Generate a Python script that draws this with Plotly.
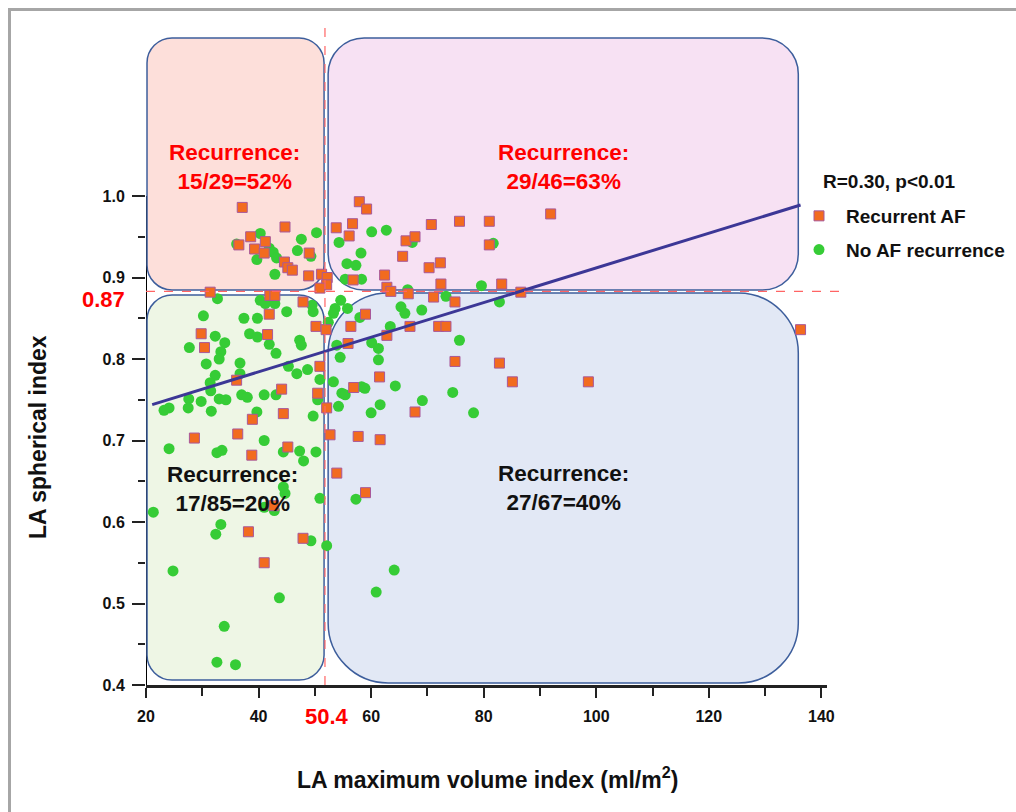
import plotly.graph_objects as go

# ---------------- data ----------------
recurrent_x = [37.1, 44.7, 38.6, 41.2, 36.5, 39.3, 41.0, 49.0, 44.6, 45.2, 46.0, 48.9, 51.2, 52.2, 52.1,
               50.9, 31.4, 42.0, 42.9, 47.9, 41.9, 50.2, 52.0, 29.8, 41.6, 30.4, 50.9, 36.1, 44.1, 50.5,
               52.1, 44.4, 38.9, 36.3, 28.6, 52.7, 45.2, 38.8, 53.9, 38.2, 47.9, 41.0, 42.7,
               57.9, 59.2, 53.8, 56.7, 56.1, 70.7, 75.7, 81.0, 66.2, 67.8, 81.0, 65.6, 70.3, 72.3,
               62.4, 56.8, 62.8, 63.5, 72.4, 83.2, 66.6, 71.1, 74.9, 86.6, 59.0, 66.9, 72.0, 73.3,
               56.4, 62.8, 55.9, 74.9, 82.8, 85.1, 61.5, 56.9, 67.8, 57.7, 61.6, 59.0, 91.9, 136.3, 98.6]
recurrent_y = [0.986, 0.962, 0.950, 0.944, 0.940, 0.935, 0.930, 0.930, 0.919, 0.912, 0.909, 0.902, 0.904, 0.900, 0.891,
               0.887, 0.882, 0.878, 0.878, 0.870, 0.855, 0.840, 0.836, 0.831, 0.830, 0.814, 0.791, 0.774, 0.763, 0.758,
               0.740, 0.733, 0.726, 0.708, 0.703, 0.707, 0.692, 0.682, 0.660, 0.588, 0.580, 0.550, 0.620,
               0.993, 0.984, 0.961, 0.966, 0.951, 0.965, 0.969, 0.969, 0.945, 0.950, 0.940, 0.926, 0.912, 0.918,
               0.903, 0.897, 0.888, 0.883, 0.892, 0.892, 0.880, 0.876, 0.870, 0.882, 0.855, 0.840, 0.840, 0.840,
               0.840, 0.829, 0.819, 0.797, 0.795, 0.772, 0.778, 0.765, 0.735, 0.705, 0.701, 0.636, 0.978, 0.836, 0.772]

norec_x = [40.3, 36.1, 50.3, 47.6, 46.9, 41.9, 42.6, 43.2, 39.7, 49.3, 42.9, 32.7, 40.3, 41.2, 42.9,
           45.0, 30.2, 37.4, 39.8, 49.5, 49.7,
           32.3, 34.0, 27.7, 33.3, 33.0, 38.4, 39.8, 41.9, 43.1, 47.3, 47.6, 30.7, 36.7, 45.3, 46.8,
           48.7, 32.3, 31.4, 36.7, 50.9, 31.5, 37.0, 38.0, 41.0, 43.1, 27.6, 29.8, 33.0, 34.2, 27.5,
           24.1, 23.2, 31.6, 39.7, 49.7, 50.5, 24.1, 32.6, 33.5, 41.0, 44.4, 47.3, 48.0, 50.2, 44.4,
           44.7, 50.9,
           21.3, 33.3, 32.4, 49.3, 52.1, 24.8, 43.7, 33.9, 32.6, 35.9, 41.0, 42.8, 57.3,
           60.1, 62.7, 54.3, 67.3, 81.7, 58.2, 55.7, 57.3, 55.4, 58.3, 79.6, 82.8, 73.3, 66.5, 54.6,
           53.6, 53.3, 55.8, 58.0, 65.3, 66.0, 69.0, 63.4,
           75.7, 60.1, 61.3, 54.5, 61.3, 53.9, 53.3, 58.3, 58.9, 64.3, 54.8, 55.4, 54.2, 61.6, 60.0,
           69.1, 74.5, 78.2, 60.9, 64.1, 52.4]
norec_y = [0.954, 0.941, 0.955, 0.947, 0.933, 0.936, 0.931, 0.924, 0.922, 0.926, 0.904, 0.874, 0.872, 0.868, 0.868,
           0.858, 0.853, 0.850, 0.850, 0.866, 0.858,
           0.828, 0.820, 0.814, 0.809, 0.800, 0.831, 0.827, 0.818, 0.807, 0.823, 0.817, 0.794, 0.795, 0.791, 0.782,
           0.787, 0.780, 0.771, 0.782, 0.775, 0.761, 0.756, 0.753, 0.756, 0.756, 0.751, 0.748, 0.751, 0.750, 0.740,
           0.740, 0.737, 0.736, 0.735, 0.730, 0.750, 0.690, 0.685, 0.688, 0.700, 0.686, 0.687, 0.675, 0.686, 0.643,
           0.635, 0.629,
           0.612, 0.597, 0.585, 0.577, 0.571, 0.540, 0.507, 0.472, 0.428, 0.425, 0.618, 0.614, 0.628,
           0.956, 0.958, 0.943, 0.943, 0.942, 0.930, 0.917, 0.915, 0.898, 0.898, 0.890, 0.870, 0.877, 0.885, 0.872,
           0.862, 0.856, 0.862, 0.851, 0.864, 0.856, 0.860, 0.840,
           0.823, 0.820, 0.813, 0.802, 0.799, 0.817, 0.772, 0.766, 0.764, 0.767, 0.758, 0.756, 0.742, 0.744, 0.734,
           0.749, 0.759, 0.734, 0.514, 0.541, 0.845]

fit_x = [21.1, 136.3]
fit_y = [0.744, 0.989]

x_tick_vals = [20, 40, 60, 80, 100, 120, 140]
x_minor_vals = [30, 50, 70, 90, 110, 130]
y_tick_vals = [0.4, 0.5, 0.6, 0.7, 0.8, 0.9, 1.0]
y_tick_text = ["0.4", "0.5", "0.6", "0.7", "0.8", "0.9", "1.0"]
y_minor_vals = [0.45, 0.55, 0.65, 0.75, 0.85, 0.95]

legend_names = ["Recurrent AF", "No AF recurrence"]
stat_text = "R=0.30, p<0.01"
cut_x_label = "50.4"
cut_y_label = "0.87"
quadrant_text = ["Recurrence:<br>15/29=52%", "Recurrence:<br>29/46=63%",
                 "Recurrence:<br>17/85=20%", "Recurrence:<br>27/67=40%"]
x_title = "LA maximum volume index (ml/m<sup>2</sup>)"
y_title = "LA spherical index"

# ---------------- geometry / style ----------------
W, H = 1016, 812
ML, MR, MT, MB = 146, 189, 33, 127
XR = [20, 141]
YR = [0.4, 1.2]
PW, PH = W - ML - MR, H - MT - MB
FONT = "Liberation Sans, Arial, sans-serif"


def paper_x(px):
    return (px - ML) / PW


def paper_y(py):
    return (H - MB - py) / PH


def dx(p):
    return p * (XR[1] - XR[0]) / PW


def dy(p):
    return p * (YR[1] - YR[0]) / PH


def rounded_path(x0, x1, y0, y1, r):
    rx, ry = dx(r), dy(r)
    k = 0.5523
    return (f"M {x0 + rx},{y0} L {x1 - rx},{y0} "
            f"C {x1 - rx + k * rx},{y0} {x1},{y0 + ry - k * ry} {x1},{y0 + ry} "
            f"L {x1},{y1 - ry} "
            f"C {x1},{y1 - ry + k * ry} {x1 - rx + k * rx},{y1} {x1 - rx},{y1} "
            f"L {x0 + rx},{y1} "
            f"C {x0 + rx - k * rx},{y1} {x0},{y1 - ry + k * ry} {x0},{y1 - ry} "
            f"L {x0},{y0 + ry} "
            f"C {x0},{y0 + ry - k * ry} {x0 + rx - k * rx},{y0} {x0 + rx},{y0} Z")


boxes = [
    dict(x0=20.18, x1=51.64, y0=0.8847, y1=1.194, r=25, fill="#FDDFDA"),
    dict(x0=52.36, x1=135.9, y0=0.8847, y1=1.194, r=36, fill="#F7E1F3"),
    dict(x0=20.18, x1=51.64, y0=0.406, y1=0.8785, r=25, fill="#EEF6E5"),
    dict(x0=52.36, x1=135.9, y0=0.4025, y1=0.881, r=60, fill="#E2E8F5"),
]

fig = go.Figure()

fig.add_trace(go.Scatter(
    x=norec_x, y=norec_y, mode="markers", name=legend_names[1], legendrank=2,
    legendgroup="b",
    marker=dict(symbol="circle", size=11, color="#36CC36", line=dict(width=0)),
))
fig.add_trace(go.Scatter(
    x=recurrent_x, y=recurrent_y, mode="markers", name=legend_names[0], legendrank=1,
    legendgroup="a",
    marker=dict(symbol="square", size=10, color="#F26B1F", line=dict(width=1, color="#A8589A")),
))
fig.add_trace(go.Scatter(
    x=fit_x, y=fit_y, mode="lines", showlegend=False,
    line=dict(color="#3C3796", width=3),
))

shapes = []
# y axis line (under the boxes)
shapes.append(dict(type="line", xref="x", yref="y", x0=XR[0], x1=XR[0], y0=0.4, y1=1.0,
                   line=dict(color="black", width=2), layer="below"))
for b in boxes:
    shapes.append(dict(type="path", xref="x", yref="y",
                       path=rounded_path(b["x0"], b["x1"], b["y0"], b["y1"], b["r"]),
                       fillcolor=b["fill"], line=dict(color="#3D5E9C", width=1.5), layer="below"))
# dashed cut-off lines
shapes.append(dict(type="line", xref="x", yref="paper", x0=51.8, x1=51.8,
                   y0=0, y1=paper_y(25), line=dict(color="#FF6464", width=1.2, dash="dash")))
shapes.append(dict(type="line", xref="paper", yref="y", x0=0, x1=paper_x(848),
                   y0=0.883, y1=0.883, line=dict(color="#FF6464", width=1.2, dash="dash")))
# grey frame (left and top edges visible, rest runs off the page)
shapes.append(dict(type="rect", xref="paper", yref="paper", x0=paper_x(9.5), x1=paper_x(1030),
                   y0=paper_y(830), y1=paper_y(9.5), line=dict(color="#A6A6A6", width=3),
                   fillcolor="rgba(0,0,0,0)", layer="above"))

bold = dict(family=FONT, weight="bold")
annotations = []
quad_pos = [(35.8, 1.036, "#FF0000"), (94.1, 1.036, "#FF0000"),
            (35.3, 0.641, "#111111"), (94.1, 0.642, "#111111")]
for t, (qx, qy, c) in zip(quadrant_text, quad_pos):
    annotations.append(dict(text=t, x=qx, y=qy, xref="x", yref="y", showarrow=False,
                            font=dict(size=22.5, color=c, **bold), align="center"))
annotations.append(dict(text=cut_y_label, x=paper_x(127), y=0.8736, xref="paper", yref="y",
                        xanchor="right", yanchor="middle", showarrow=False,
                        font=dict(size=22, color="#FF0000", **bold)))
annotations.append(dict(text=cut_x_label, x=52.2, y=paper_y(716), xref="x", yref="paper",
                        yanchor="middle", showarrow=False, font=dict(size=22, color="#FF0000", **bold)))
annotations.append(dict(text=stat_text, x=paper_x(821), y=paper_y(181), xref="paper", yref="paper",
                        xanchor="left", yanchor="middle", showarrow=False,
                        font=dict(size=19, color="#111111", **bold)))
annotations.append(dict(text=x_title, x=paper_x(487), y=paper_y(778), xref="paper", yref="paper",
                        yanchor="middle", showarrow=False, font=dict(size=23, color="#111111", **bold)))
annotations.append(dict(text=y_title, x=paper_x(38), y=paper_y(437), xref="paper", yref="paper",
                        xanchor="center", yanchor="middle",
                        textangle=-90, showarrow=False, font=dict(size=23, color="#111111", **bold)))

fig.update_layout(
    width=W, height=H,
    margin=dict(l=ML, r=MR, t=MT, b=MB, pad=0, autoexpand=False),
    paper_bgcolor="white", plot_bgcolor="white",
    shapes=shapes, annotations=annotations,
    showlegend=True,
    legend=dict(x=paper_x(792), y=paper_y(197), xanchor="left", yanchor="top",
                font=dict(size=19, color="#111111", **bold), bgcolor="rgba(0,0,0,0)",
                traceorder="grouped", tracegroupgap=6, itemsizing="trace", itemwidth=44),
    xaxis=dict(range=XR, showgrid=False, zeroline=False, showline=True, linecolor="#222222",
               linewidth=2.5, ticks="outside", ticklen=10, tickwidth=2, tickcolor="#222222",
               tickvals=x_tick_vals, tickfont=dict(size=16, color="#111111", **bold),
               ticklabelstandoff=5,
               minor=dict(tickvals=x_minor_vals, ticks="outside", ticklen=8, tickwidth=2,
                          tickcolor="#222222")),
    yaxis=dict(range=YR, showgrid=False, zeroline=False, showline=False,
               ticks="outside", ticklen=13, tickwidth=2, tickcolor="#222222",
               tickvals=y_tick_vals, ticktext=y_tick_text,
               tickfont=dict(size=16, color="#111111", **bold),
               ticklabelstandoff=4,
               minor=dict(tickvals=y_minor_vals, ticks="outside", ticklen=7, tickwidth=2,
                          tickcolor="#222222")),
)

fig.write_html("out.html", config={"displayModeBar": False},
               post_script="document.body.style.margin='0';document.body.style.overflow='hidden';")
